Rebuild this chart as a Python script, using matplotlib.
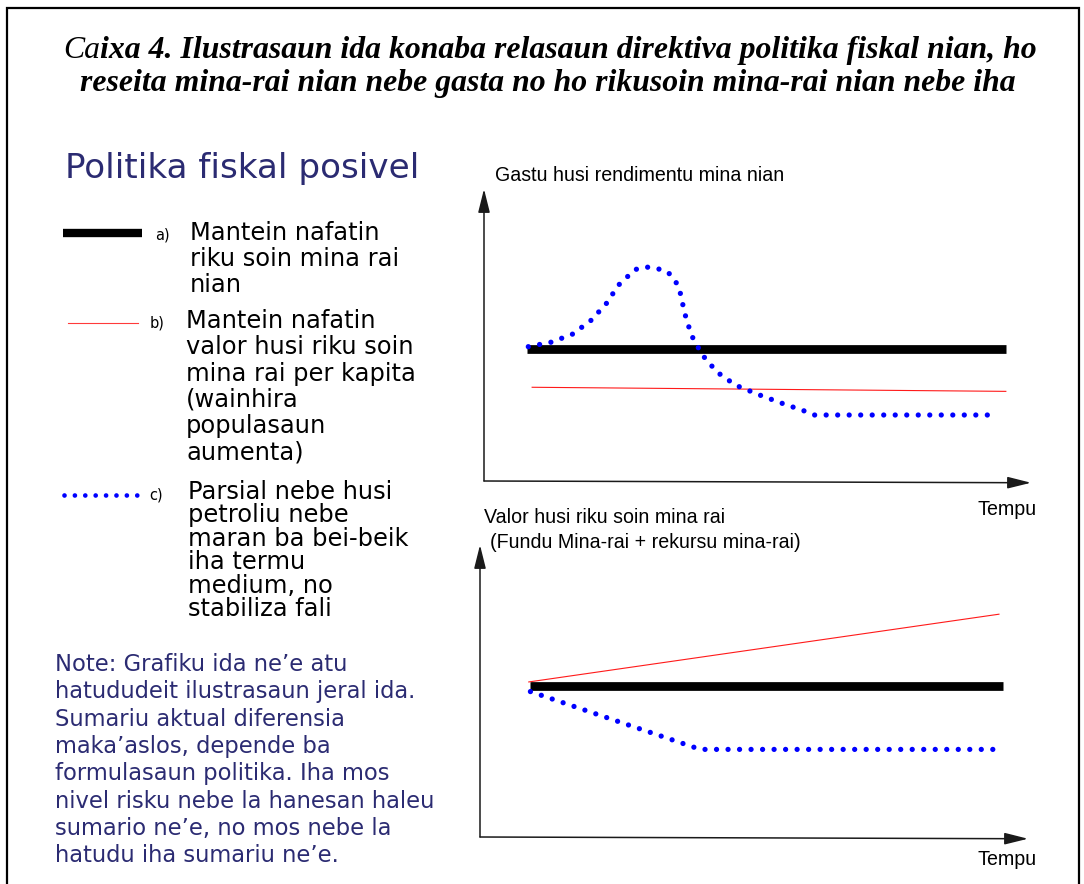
import matplotlib
matplotlib.use("Agg")
import matplotlib.pyplot as plt

# ---------------- data (schematic units: time 0-100, level 0-100) ----------------
top_flat_t = [7.9, 95.4]
top_flat_v = [45.2, 45.2]
top_percap_t = [8.8, 95.4]
top_percap_v = [32.1, 30.7]
top_partial_t = [8.1, 12.2, 16.1, 19.5, 22.3, 24.6, 27.6, 29.6, 31.6, 33.6, 35.0,
                 35.8, 36.7, 37.9, 39.9, 42.6, 46.0, 50.6, 54.5, 58.4, 60.4, 93.8]
top_partial_v = [46.0, 47.5, 50.2, 54.9, 60.6, 67.1, 72.4, 73.3, 72.8, 71.6, 68.5,
                 65.1, 57.4, 50.0, 43.2, 37.3, 32.8, 29.3, 26.6, 24.1, 22.6, 22.6]

bot_flat_t = [9.1, 95.4]
bot_flat_v = [51.7, 51.7]
bot_percap_t = [8.9, 94.7]
bot_percap_v = [53.1, 76.3]
bot_partial_t = [9.2, 25.0, 40.2, 95.2]
bot_partial_v = [49.8, 39.7, 30.0, 30.0]

title_ca = "Ca"
title_rest = "ixa 4. Ilustrasaun ida konaba relasaun direktiva politika fiskal nian, ho"
title_line2 = "reseita mina-rai nian nebe gasta no ho rikusoin mina-rai nian nebe iha"
heading = "Politika fiskal posivel"
legend_a = ["Mantein nafatin", "riku soin mina rai", "nian"]
legend_b = ["Mantein nafatin", "valor husi riku soin", "mina rai per kapita",
            "(wainhira", "populasaun", "aumenta)"]
legend_c = ["Parsial nebe husi", "petroliu nebe", "maran ba bei-beik",
            "iha termu", "medium, no", "stabiliza fali"]
note_lines = ["Note: Grafiku ida ne\u2019e atu", "hatududeit ilustrasaun jeral ida.",
              "Sumariu aktual diferensia", "maka\u2019aslos, depende ba",
              "formulasaun politika. Iha mos", "nivel risku nebe la hanesan haleu",
              "sumario ne\u2019e, no mos nebe la", "hatudu iha sumariu ne\u2019e."]
top_ylabel = "Gastu husi rendimentu mina nian"
bot_ylabel1 = "Valor husi riku soin mina rai"
bot_ylabel2 = "(Fundu Mina-rai + rekursu mina-rai)"
xlabel = "Tempu"

# ---------------- styles ----------------
W, H = 1084, 884
NAVY = "#2b2b72"
BLUE = "#0000ff"
RED = "#ff1a1a"
flat_kw = dict(color="black", lw=6.3, solid_capstyle="butt")
percap_kw = dict(color=RED, lw=0.8)
partial_kw = dict(color=BLUE, lw=3.8, linestyle=(0, (0.001, 2.18)),
                  dash_capstyle="round")

fig = plt.figure(figsize=(W / 100, H / 100), dpi=100)
fig.patch.set_facecolor("white")
R = fig.canvas.get_renderer()

# overlay axes in pixel coordinates for frame / text
deco = fig.add_axes([0, 0, 1, 1])
deco.set_xlim(0, W)
deco.set_ylim(H, 0)
deco.axis("off")


def fit(t, target):
    w = t.get_window_extent(R).width
    t.set_fontsize(t.get_fontsize() * target / w)
    return t


# frame
deco.plot([7, 7, 1079, 1079], [H + 5, 8, 8, H + 5], color="black", lw=1.6,
          solid_joinstyle="miter")

# title
serif = "Liberation Serif"
t1 = deco.text(63, 58, title_ca, family=serif, style="italic", fontsize=24,
               va="baseline", ha="left")
t2 = deco.text(63, 58, title_rest, family=serif, style="italic",
               weight="bold", fontsize=24, va="baseline", ha="left")
wsum = t1.get_window_extent(R).width + t2.get_window_extent(R).width
s = 24 * 977 / wsum
t1.set_fontsize(s)
t2.set_fontsize(s)
t2.set_x(63 + t1.get_window_extent(R).width)
deco.text(548, 91, title_line2, family=serif, style="italic", weight="bold",
          fontsize=s, va="baseline", ha="center")

# heading
sans = "DejaVu Sans"
fit(deco.text(65, 178, heading, family=sans, color=NAVY, fontsize=24,
              va="baseline"), 353)

# legend
ref = deco.text(0, -100, legend_a[0], family=sans, fontsize=16)
fit(ref, 190)
lsize = ref.get_fontsize()
ref.remove()


def block(x, y0, dy, lines, size, color="black"):
    for i, ln in enumerate(lines):
        deco.text(x, y0 + i * dy, ln, family=sans, fontsize=size, color=color,
                  va="baseline", ha="left")


block(190, 240, 26, legend_a, lsize)
block(186, 328, 26.3, legend_b, lsize)
block(188, 499, 23.4, legend_c, lsize)
deco.text(155, 239, "a)", family=sans, fontsize=10.5, va="baseline")
deco.text(150, 328, "b)", family=sans, fontsize=10.5, va="baseline")
deco.text(149, 500, "c)", family=sans, fontsize=10.5, va="baseline")
deco.plot([63, 142], [233, 233], color="black", lw=6.0, solid_capstyle="butt")
deco.plot([68, 138], [323, 323], color="#ff3a3a", lw=0.8)
deco.plot([64, 136.5], [495, 495], color=BLUE, lw=3.4,
          linestyle=(0, (0.001, 2.2)), dash_capstyle="round")

# note
ref = deco.text(0, -100, note_lines[5], family=sans, fontsize=16)
fit(ref, 382)
nsize = ref.get_fontsize()
ref.remove()
block(55, 671, 27.3, note_lines, nsize, color=NAVY)

# chart labels
lab = "Liberation Sans"
g = fit(deco.text(495, 181, top_ylabel, family=lab, fontsize=14, va="baseline"), 290)
csize = g.get_fontsize()
deco.text(484, 523, bot_ylabel1, family=lab, fontsize=csize, va="baseline")
deco.text(490, 548, bot_ylabel2, family=lab, fontsize=csize, va="baseline")
deco.text(977, 515, xlabel, family=lab, fontsize=csize, va="baseline")
deco.text(978, 865, xlabel, family=lab, fontsize=csize, va="baseline")


# ---------------- charts ----------------
def chart(x0, y0, x1, y1):
    ax = fig.add_axes([x0 / W, 1 - y0 / H, (x1 - x0) / W, (y0 - y1) / H])
    ax.set_xlim(0, 100)
    ax.set_ylim(0, 100)
    ax.axis("off")
    ap = dict(arrowstyle="-|>,head_length=1.44,head_width=0.36",
              mutation_scale=10, lw=1.1, color="#1a1a1a",
              shrinkA=0, shrinkB=0)
    ax.annotate("", xy=(0, 1), xytext=(0, 0), xycoords="axes fraction",
                arrowprops=ap, annotation_clip=False)
    ax.annotate("", xy=(1, -0.006), xytext=(0, 0), xycoords="axes fraction",
                arrowprops=ap, annotation_clip=False)
    return ax


ax1 = chart(484, 481, 1031, 189)
ax1.plot(top_flat_t, top_flat_v, **flat_kw)
ax1.plot(top_percap_t, top_percap_v, **percap_kw)
ax1.plot(top_partial_t, top_partial_v, **partial_kw)

ax2 = chart(480, 837, 1028, 545)
ax2.plot(bot_flat_t, bot_flat_v, **flat_kw)
ax2.plot(bot_percap_t, bot_percap_v, **percap_kw)
ax2.plot(bot_partial_t, bot_partial_v, **partial_kw)

fig.savefig("out.png", dpi=100, facecolor="white")
